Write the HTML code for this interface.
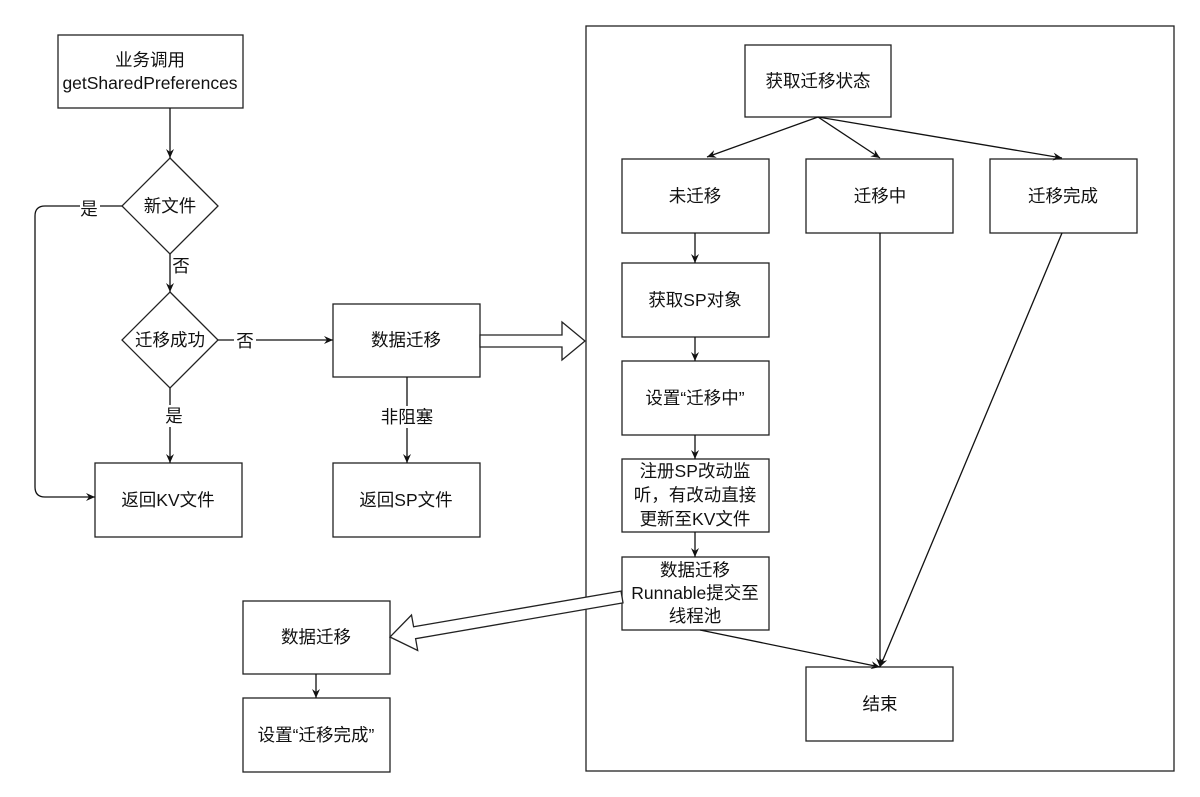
<!DOCTYPE html>
<html><head><meta charset="utf-8"><style>
html,body{margin:0;padding:0;background:#fff;}
svg{display:block;}
text{font-family:"Liberation Sans","Noto Sans CJK SC",sans-serif;font-size:17.5px;fill:#111;text-anchor:middle;dominant-baseline:central;}
</style></head><body>
<svg width="1200" height="797" viewBox="0 0 1200 797" xmlns="http://www.w3.org/2000/svg">
<defs><marker id="a" markerWidth="10" markerHeight="10" refX="9" refY="5" orient="auto" markerUnits="userSpaceOnUse"><path d="M0,1 L9,5 L0,9 L3,5 Z" fill="#111"/></marker></defs>
<g fill="#fff" stroke="#222" stroke-width="1.3">
<rect x="586" y="26" width="588" height="745"/>
<rect x="58" y="35" width="185" height="73"/>
<polygon points="170,158 218,206 170,254 122,206"/>
<polygon points="170,292 218,340 170,388 122,340"/>
<rect x="95" y="463" width="147" height="74"/>
<rect x="333" y="304" width="147" height="73"/>
<rect x="333" y="463" width="147" height="74"/>
<rect x="745" y="45" width="146" height="72"/>
<rect x="622" y="159" width="147" height="74"/>
<rect x="806" y="159" width="147" height="74"/>
<rect x="990" y="159" width="147" height="74"/>
<rect x="622" y="263" width="147" height="74"/>
<rect x="622" y="361" width="147" height="74"/>
<rect x="622" y="459" width="147" height="73"/>
<rect x="622" y="557" width="147" height="73"/>
<rect x="806" y="667" width="147" height="74"/>
<rect x="243" y="601" width="147" height="73"/>
<rect x="243" y="698" width="147" height="74"/>
<polygon points="480,335 562,335 562,322 585,341 562,360 562,347 480,347"/>
<polygon points="623,602.9 415.6,638.7 417.7,650.5 390,637 411.5,615 413.6,626.8 621,591.1"/>
</g>
<g stroke="#111" stroke-width="1.3" fill="none" marker-end="url(#a)">
<line x1="170" y1="108" x2="170" y2="158"/>
<line x1="170" y1="254" x2="170" y2="292"/>
<line x1="170" y1="388" x2="170" y2="463"/>
<path d="M122,206 L45,206 Q35,206 35,216 L35,487 Q35,497 45,497 L95,497"/>
<line x1="218" y1="340" x2="333" y2="340"/>
<line x1="407" y1="377" x2="407" y2="463"/>
<line x1="818" y1="117" x2="707" y2="157"/>
<line x1="818" y1="117" x2="880" y2="158"/>
<line x1="818" y1="117" x2="1062" y2="158"/>
<line x1="695" y1="233" x2="695" y2="263"/>
<line x1="695" y1="337" x2="695" y2="361"/>
<line x1="695" y1="435" x2="695" y2="459"/>
<line x1="695" y1="532" x2="695" y2="557"/>
<line x1="880" y1="233" x2="880" y2="667"/>
<line x1="1062" y1="233" x2="880" y2="667"/>
<line x1="700" y1="630" x2="880" y2="667"/>
<line x1="316" y1="674" x2="316" y2="698"/>
</g>
<g>
<rect x="80" y="197" width="20" height="20" fill="#fff"/>
<rect x="171" y="256" width="20" height="20" fill="#fff"/>
<rect x="162" y="405" width="20" height="22" fill="#fff"/>
<rect x="234" y="331" width="22" height="20" fill="#fff"/>
<rect x="377" y="406" width="62" height="22" fill="#fff"/>
</g>
<text x="150" y="60">业务调用</text>
<text x="150" y="83">getSharedPreferences</text>
<text x="170" y="206">新文件</text>
<text x="170" y="340">迁移成功</text>
<text x="89" y="209">是</text>
<text x="181" y="266">否</text>
<text x="174" y="416">是</text>
<text x="245" y="341">否</text>
<text x="407" y="417">非阻塞</text>
<text x="168" y="500">返回KV文件</text>
<text x="406" y="340">数据迁移</text>
<text x="406" y="500">返回SP文件</text>
<text x="818" y="81">获取迁移状态</text>
<text x="695" y="196">未迁移</text>
<text x="880" y="196">迁移中</text>
<text x="1063" y="196">迁移完成</text>
<text x="695" y="300">获取SP对象</text>
<text x="695" y="398">设置“迁移中”</text>
<text x="695" y="471">注册SP改动监</text>
<text x="695" y="495">听，有改动直接</text>
<text x="695" y="519">更新至KV文件</text>
<text x="695" y="570">数据迁移</text>
<text x="695" y="593">Runnable提交至</text>
<text x="695" y="616">线程池</text>
<text x="880" y="704">结束</text>
<text x="316" y="637">数据迁移</text>
<text x="316" y="735">设置“迁移完成”</text>
</svg>
</body></html>
